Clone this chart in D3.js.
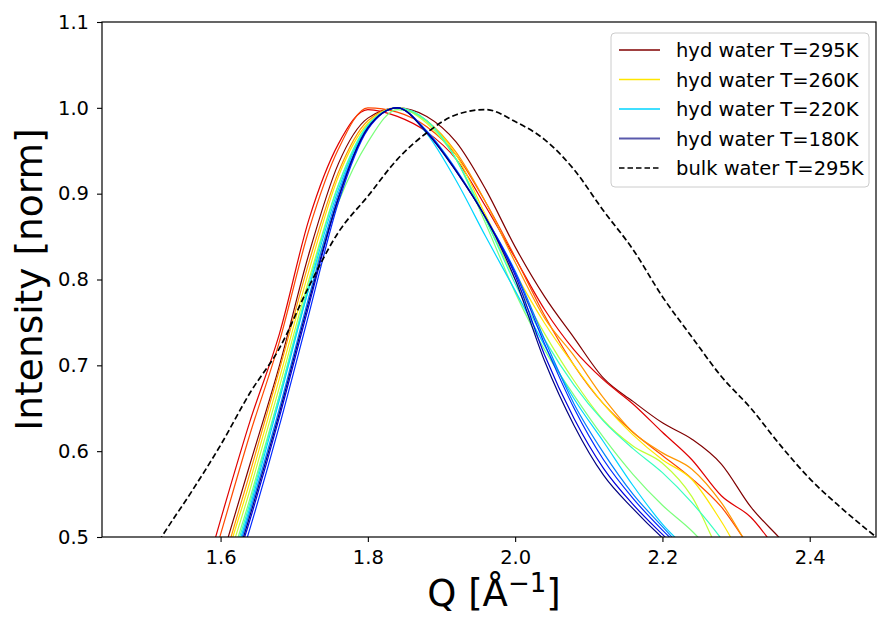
<!DOCTYPE html>
<html>
<head>
<meta charset="utf-8">
<script src="https://cdn.jsdelivr.net/npm/d3@7"></script>
<style>
  body { margin: 0; background: #fff; }
  text { font-family: "DejaVu Sans", sans-serif; fill: #000; }
</style>
</head>
<body>
<div id="chart"></div>
<script>
// Q grid shared by the hydration-water curves
const qGrid = [1.56, 1.60, 1.64, 1.68, 1.72, 1.76, 1.80, 1.84, 1.88, 1.92, 1.96,
               2.00, 2.04, 2.08, 2.12, 2.16, 2.20, 2.24, 2.28, 2.32, 2.36, 2.40];

const hydTemps = [295, 290, 280, 270, 260, 250, 240, 230, 220, 210, 200, 190, 180];

// normalized intensity, one array per temperature
const hyd295 = [0.355, 0.47, 0.585, 0.70, 0.83, 0.935, 0.988, 1.0, 0.99, 0.96, 0.905, 0.838, 0.78, 0.732, 0.685, 0.658, 0.633, 0.614, 0.585, 0.535, 0.498, 0.46];
const hyd290 = [0.40, 0.52, 0.635, 0.737, 0.87, 0.958, 0.998, 0.99, 0.972, 0.94, 0.885, 0.825, 0.765, 0.718, 0.683, 0.655, 0.622, 0.59, 0.548, 0.523, 0.48, 0.44];
const hyd280 = [0.385, 0.503, 0.62, 0.728, 0.858, 0.952, 1.0, 0.995, 0.978, 0.945, 0.89, 0.826, 0.758, 0.70, 0.655, 0.622, 0.595, 0.568, 0.535, 0.487, 0.45, 0.41];
const hyd270 = [0.30, 0.455, 0.575, 0.695, 0.82, 0.925, 0.985, 1.0, 0.985, 0.948, 0.89, 0.82, 0.755, 0.711, 0.662, 0.622, 0.598, 0.579, 0.54, 0.485, 0.44, 0.40];
const hyd260 = [0.30, 0.45, 0.565, 0.685, 0.81, 0.92, 0.982, 1.0, 0.984, 0.945, 0.875, 0.808, 0.749, 0.70, 0.655, 0.619, 0.59, 0.567, 0.518, 0.46, 0.42, 0.38];
const hyd250 = [0.29, 0.44, 0.555, 0.675, 0.80, 0.91, 0.978, 1.0, 0.982, 0.94, 0.87, 0.80, 0.737, 0.682, 0.636, 0.606, 0.586, 0.547, 0.478, 0.43, 0.39, 0.35];
const hyd240 = [0.28, 0.43, 0.545, 0.665, 0.79, 0.89, 0.96, 0.998, 0.985, 0.94, 0.865, 0.785, 0.718, 0.665, 0.616, 0.573, 0.537, 0.507, 0.47, 0.43, 0.39, 0.35];
const hyd230 = [0.275, 0.425, 0.54, 0.665, 0.795, 0.91, 0.98, 1.0, 0.985, 0.94, 0.87, 0.795, 0.73, 0.677, 0.635, 0.603, 0.575, 0.54, 0.498, 0.45, 0.41, 0.37];
const hyd220 = [0.27, 0.42, 0.535, 0.66, 0.79, 0.905, 0.978, 1.0, 0.97, 0.915, 0.85, 0.787, 0.723, 0.661, 0.611, 0.56, 0.515, 0.48, 0.44, 0.40, 0.36, 0.32];
const hyd210 = [0.265, 0.415, 0.53, 0.65, 0.78, 0.90, 0.976, 1.0, 0.973, 0.928, 0.872, 0.81, 0.73, 0.655, 0.598, 0.55, 0.512, 0.475, 0.44, 0.40, 0.36, 0.32];
const hyd200 = [0.25, 0.40, 0.51, 0.63, 0.76, 0.89, 0.975, 1.0, 0.972, 0.927, 0.872, 0.808, 0.725, 0.65, 0.59, 0.545, 0.508, 0.475, 0.44, 0.40, 0.36, 0.32];
const hyd190 = [0.26, 0.41, 0.52, 0.64, 0.77, 0.895, 0.976, 1.0, 0.972, 0.926, 0.872, 0.805, 0.712, 0.638, 0.58, 0.538, 0.503, 0.47, 0.44, 0.40, 0.36, 0.32];
const hyd180 = [0.26, 0.41, 0.525, 0.645, 0.775, 0.895, 0.977, 1.0, 0.971, 0.926, 0.872, 0.80, 0.705, 0.63, 0.572, 0.533, 0.499, 0.47, 0.44, 0.40, 0.36, 0.32];

// bulk water, own grid
const bulkQ = [1.48, 1.52, 1.56, 1.60, 1.64, 1.68, 1.72, 1.76, 1.80, 1.84, 1.88, 1.92, 1.96,
               2.00, 2.04, 2.08, 2.12, 2.16, 2.20, 2.24, 2.28, 2.32, 2.36, 2.40, 2.44, 2.48, 2.52];
const bulkI = [0.44, 0.50, 0.552, 0.607, 0.668, 0.72, 0.792, 0.855, 0.897, 0.94, 0.971, 0.992, 0.998,
               0.984, 0.963, 0.928, 0.88, 0.835, 0.78, 0.733, 0.687, 0.65, 0.607, 0.568, 0.536, 0.507, 0.48];

const legendTemps = [295, 260, 220, 180];
const xTicks = [1.6, 1.8, 2.0, 2.2, 2.4];
const yTicks = [0.5, 0.6, 0.7, 0.8, 0.9, 1.0, 1.1];

const hydValues = [hyd295, hyd290, hyd280, hyd270, hyd260, hyd250, hyd240,
                   hyd230, hyd220, hyd210, hyd200, hyd190, hyd180];

// ---- layout
const width = 877, height = 617;
const margin = {top: 22, right: 1, bottom: 80, left: 102};
const iw = width - margin.left - margin.right;
const ih = height - margin.top - margin.bottom;

const x = d3.scaleLinear().domain([1.439, 2.490]).range([0, iw]);
const y = d3.scaleLinear().domain([0.5, 1.1]).range([ih, 0]);

// matplotlib "jet" colormap from its segment data
const jetR = d3.scaleLinear().domain([0, 0.35, 0.66, 0.89, 1]).range([0, 0, 1, 1, 0.5]).clamp(true);
const jetG = d3.scaleLinear().domain([0, 0.125, 0.375, 0.64, 0.91, 1]).range([0, 0, 1, 1, 0, 0]).clamp(true);
const jetB = d3.scaleLinear().domain([0, 0.11, 0.34, 0.65, 1]).range([0.5, 1, 1, 0, 0]).clamp(true);
const jet = t => d3.rgb(jetR(t) * 255, jetG(t) * 255, jetB(t) * 255).formatHex();
const colorIdx = d3.scaleLinear().domain([hydTemps.length - 1, 0]).range([0, 1]);
const colorOf = i => jet(colorIdx(i));

const svg = d3.select('#chart').append('svg')
    .attr('width', width)
    .attr('height', height);

svg.append('defs').append('clipPath').attr('id', 'plotclip')
    .append('rect').attr('width', iw).attr('height', ih);

const g = svg.append('g').attr('transform', `translate(${margin.left},${margin.top})`);

const line = d3.line()
    .x(d => x(d[0]))
    .y(d => y(d[1]))
    .curve(d3.curveMonotoneX);

const lines = g.append('g').attr('clip-path', 'url(#plotclip)');

lines.selectAll('path.hyd')
    .data(hydValues)
    .join('path')
    .classed('hyd', true)
    .attr('d', vals => line(qGrid.map((q, j) => [q, vals[j]])))
    .attr('fill', 'none')
    .attr('stroke', (d, i) => colorOf(i))
    .attr('stroke-width', 1.2);

lines.append('path')
    .attr('d', line(bulkQ.map((q, j) => [q, bulkI[j]])))
    .attr('fill', 'none')
    .attr('stroke', '#000')
    .attr('stroke-width', 1.7)
    .attr('stroke-dasharray', '6,3');

// axes
const xAxis = g.append('g')
    .attr('transform', `translate(0,${ih})`)
    .call(d3.axisBottom(x).tickValues(xTicks).tickFormat(d3.format('.1f')).tickSizeOuter(0).tickSize(5).tickPadding(8));
const yAxis = g.append('g')
    .call(d3.axisLeft(y).tickValues(yTicks).tickFormat(d3.format('.1f')).tickSizeOuter(0).tickSize(5).tickPadding(8));

[xAxis, yAxis].forEach(a => {
  a.selectAll('text').style('font-size', '19.5px').style('font-family', '"DejaVu Sans", sans-serif');
  a.selectAll('line').attr('stroke', '#000').attr('stroke-width', 1.1);
  a.select('.domain').remove();
});

// frame
g.append('rect')
    .attr('width', iw).attr('height', ih)
    .attr('fill', 'none').attr('stroke', '#000').attr('stroke-width', 1.2);

// axis labels
const xl = svg.append('text')
    .attr('x', margin.left + iw / 2 + 5)
    .attr('y', 606)
    .attr('text-anchor', 'middle')
    .style('font-size', '37px');
xl.append('tspan').text('Q [Å');
xl.append('tspan').attr('dy', -14).style('font-size', '26px').text('−1');
xl.append('tspan').attr('dy', 14).text(']');

svg.append('text')
    .attr('transform', `translate(42,${margin.top + ih / 2}) rotate(-90)`)
    .attr('text-anchor', 'middle')
    .style('font-size', '37.5px')
    .text('Intensity [norm]');

// legend
const legend = svg.append('g').attr('transform', 'translate(611,33)');
legend.append('rect')
    .attr('width', 258).attr('height', 154)
    .attr('rx', 4)
    .attr('fill', '#fff').attr('fill-opacity', 0.8)
    .attr('stroke', '#cccccc').attr('stroke-width', 1);

const legendItems = legendTemps.map(t => ({
  label: `hyd water T=${t}K`,
  color: colorOf(hydTemps.indexOf(t)),
  dash: null
})).concat([{label: 'bulk water T=295K', color: '#000', dash: '5.5,3'}]);

const rows = legend.selectAll('g.row')
    .data(legendItems)
    .join('g')
    .classed('row', true)
    .attr('transform', (d, i) => `translate(0,${17 + i * 29.5})`);

rows.append('line')
    .attr('x1', 8).attr('x2', 49)
    .attr('stroke', d => d.color)
    .attr('stroke-width', (d, i) => i === 3 ? 2 : 1.3)
    .attr('stroke-opacity', (d, i) => i === 3 ? 0.65 : 1)
    .attr('stroke-dasharray', d => d.dash);

rows.append('text')
    .attr('x', 65)
    .attr('y', 7)
    .style('font-size', '19.5px')
    .text(d => d.label);
</script>
</body>
</html>
